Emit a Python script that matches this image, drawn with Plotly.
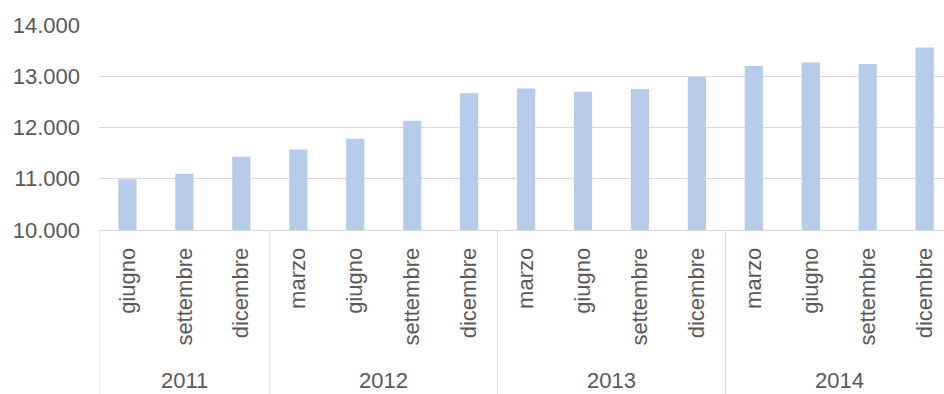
import plotly.graph_objects as go

# Quarterly values, grouped by year
years = ["2011", "2012", "2013", "2014"]
months = ["giugno", "settembre", "dicembre",
          "marzo", "giugno", "settembre", "dicembre",
          "marzo", "giugno", "settembre", "dicembre",
          "marzo", "giugno", "settembre", "dicembre"]
months_per_year = [3, 4, 4, 4]
values = [10990, 11100, 11430,
          11570, 11780, 12130, 12670,
          12760, 12700, 12750, 12990,
          13200, 13270, 13240, 13560]
y_ticks = [10000, 11000, 12000, 13000, 14000]

font_family = "Liberation Sans, Arial, sans-serif"
text_color = "#595959"
line_color = "#d9d9d9"
font_size = 22

positions = list(range(len(months)))

fig = go.Figure(
    go.Bar(
        x=positions,
        y=values,
        marker=dict(color="#b7cbeb", line=dict(width=0)),
        width=0.32,
    )
)

# Year labels centred under each group, with dividers between groups
start = 0
boundaries = [-0.5]
for year, n in zip(years, months_per_year):
    centre = start + (n - 1) / 2
    fig.add_annotation(
        x=centre, xref="x",
        y=-0.735, yref="paper",
        text=year, showarrow=False,
        xanchor="center", yanchor="middle",
        font=dict(size=font_size, color=text_color, family=font_family),
    )
    start += n
    boundaries.append(start - 0.5)

for b in boundaries:
    fig.add_shape(
        type="line", xref="x", yref="paper",
        x0=b, x1=b, y0=0, y1=-0.82,
        line=dict(color=line_color, width=1),
        layer="below",
    )

fig.update_layout(
    width=944,
    height=394,
    margin=dict(l=99, r=0, t=25, b=164),
    paper_bgcolor="white",
    plot_bgcolor="white",
    separators=",.",
    showlegend=False,
    font=dict(family=font_family, size=font_size, color=text_color),
)

fig.update_yaxes(
    range=[10000, 14000],
    tickvals=y_ticks,
    tickformat=",d",
    showgrid=True,
    gridcolor=line_color,
    gridwidth=1,
    zeroline=False,
    showline=False,
    ticks="",
    ticklabelstandoff=18,
    tickfont=dict(size=font_size, color=text_color),
)

fig.update_xaxes(
    range=[-0.5, 14.34],
    tickvals=positions,
    ticktext=months,
    tickangle=-90,
    showline=True,
    linecolor=line_color,
    linewidth=1,
    showgrid=False,
    ticks="",
    ticklabelstandoff=8,
    tickfont=dict(size=font_size, color=text_color),
)

fig.write_html("out.html")
